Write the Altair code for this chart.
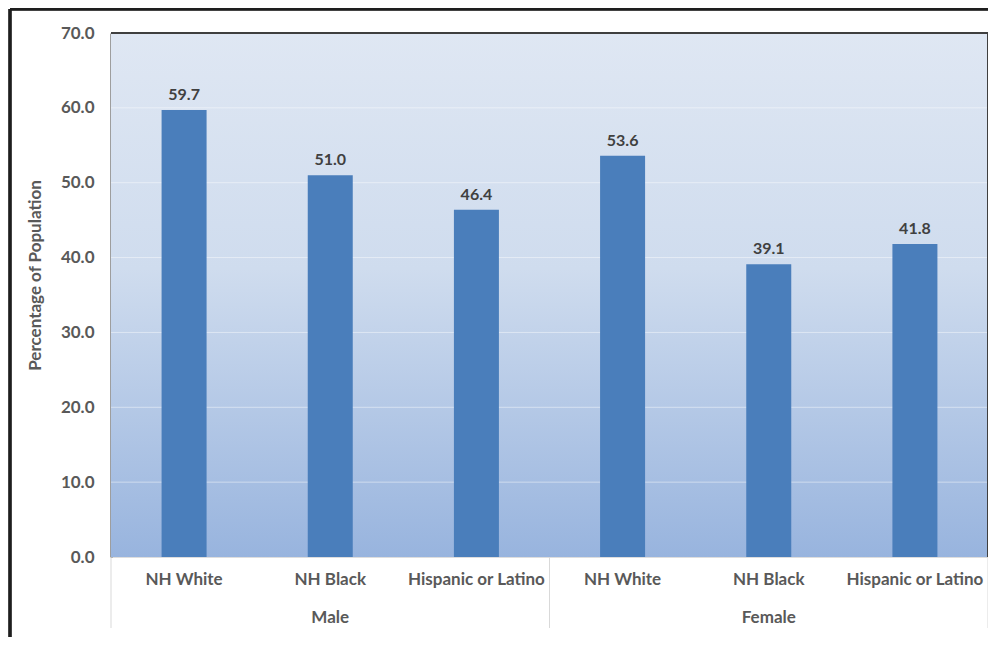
import altair as alt
import pandas as pd

sexes = ["Male", "Male", "Male", "Female", "Female", "Female"]
races = ["NH White", "NH Black", "Hispanic or Latino", "NH White", "NH Black", "Hispanic or Latino"]
values = [59.7, 51.0, 46.4, 53.6, 39.1, 41.8]
group_labels = ["Male", "Female"]
group_centers = ["Male|NH Black", "Female|NH Black"]
y_ticks = [0, 10, 20, 30, 40, 50, 60, 70]
grid_values = [10, 20, 30, 40, 50, 60]

W, H = 877, 524
FONT = "Lato"
keys = [s + "|" + r for s, r in zip(sexes, races)]
df = pd.DataFrame({"key": keys, "sex": sexes, "race": races, "value": values})

xscale = alt.Scale(domain=keys, paddingInner=0, paddingOuter=0)
x_enc = alt.X("key:N", scale=xscale, sort=keys, title=None,
              axis=alt.Axis(labelExpr="split(datum.label, '|')[1]", labelAngle=0,
                            labelFont=FONT, labelFontSize=17, labelFontWeight="bold",
                            labelColor="#595959", labelPadding=14, domain=False,
                            ticks=False, grid=False))
yscale = alt.Scale(domain=[0, 70], nice=False)

bg = alt.Chart(df).mark_rect(
    color=alt.LinearGradient(gradient="linear",
                             stops=[alt.GradientStop(color="#dfe7f3", offset=0),
                                    alt.GradientStop(color="#cfdcee", offset=0.45),
                                    alt.GradientStop(color="#98b4de", offset=1)],
                             x1=0, x2=0, y1=0, y2=1)
).encode(x=alt.value(0), x2=alt.value(W), y=alt.value(0), y2=alt.value(H))

grid = alt.Chart(pd.DataFrame({"v": grid_values})).mark_rule(
    color="#ffffff", opacity=0.45, strokeWidth=1
).encode(y=alt.Y("v:Q", scale=yscale), x=alt.value(0), x2=alt.value(W))

bars = alt.Chart(df).mark_bar(color="#4a7ebb", width=45).encode(
    x=x_enc,
    y=alt.Y("value:Q", scale=yscale, title="Percentage of Population",
            axis=alt.Axis(values=y_ticks, format=".1f", labelFont=FONT, labelFontSize=17,
                          labelFontWeight="bold", labelColor="#595959", labelPadding=17,
                          ticks=False, grid=False, domainColor="#3f3f3f", domainWidth=2,
                          titleFont=FONT, titleFontSize=17, titleFontWeight="bold",
                          titleColor="#595959", titlePadding=16, titleY=242)),
)

labels = alt.Chart(df).mark_text(
    baseline="bottom", dy=-7, font=FONT, fontSize=16, fontWeight="bold", color="#404040"
).encode(x=alt.X("key:N", scale=xscale, sort=keys), y=alt.Y("value:Q", scale=yscale),
         text=alt.Text("value:Q", format=".1f"))

groups = alt.Chart(pd.DataFrame({"key": group_centers, "label": group_labels})).mark_text(
    baseline="middle", font=FONT, fontSize=17, fontWeight="bold", color="#595959"
).encode(x=alt.X("key:N", scale=xscale, sort=keys), y=alt.value(H + 61), text="label:N")

sep_left = alt.Chart(pd.DataFrame({"key": [keys[0], keys[3]]})).mark_rule(
    color="#d9d9d9", strokeWidth=1
).encode(x=alt.X("key:N", scale=xscale, sort=keys, bandPosition=0),
         y=alt.value(H), y2=alt.value(H + 71))
sep_right = alt.Chart(pd.DataFrame({"key": [keys[5]]})).mark_rule(
    color="#d9d9d9", strokeWidth=1
).encode(x=alt.X("key:N", scale=xscale, sort=keys, bandPosition=1),
         y=alt.value(H), y2=alt.value(H + 71))

top_border = alt.Chart(df).mark_rule(color="#3f3f3f", strokeWidth=2).encode(
    x=alt.value(0), x2=alt.value(W), y=alt.value(0))
right_border = alt.Chart(df).mark_rule(color="#3f3f3f", strokeWidth=2).encode(
    x=alt.value(W), y=alt.value(0), y2=alt.value(H))

frame_left = alt.Chart(df).mark_rule(color="#1e1e1e", strokeWidth=2.5).encode(
    x=alt.value(-101), y=alt.value(-24), y2=alt.value(H + 120))
frame_top = alt.Chart(df).mark_rule(color="#1e1e1e", strokeWidth=2.5).encode(
    x=alt.value(-101), x2=alt.value(W + 30), y=alt.value(-24))

chart = alt.layer(
    bg, grid, bars, labels, groups, sep_left, sep_right, top_border, right_border,
    frame_left, frame_top
).properties(
    width=W, height=H,
    autosize=alt.AutoSizeParams(type="none"),
    padding={"left": 103, "top": 25, "right": 0, "bottom": 80},
).configure_view(stroke=None).configure(background="white")

chart.save("out.html", embed_options={"renderer": "svg", "actions": False})
